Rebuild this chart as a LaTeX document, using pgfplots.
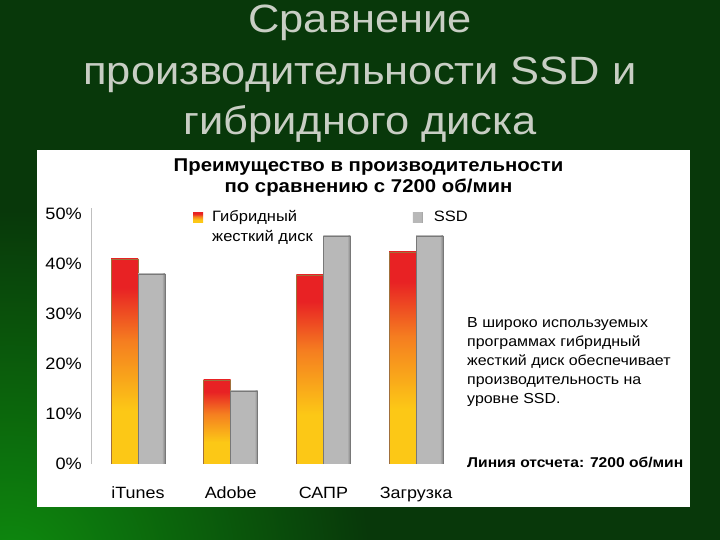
\documentclass[border=0pt]{standalone}
\usepackage{pgfplots}
\usepackage{pgfplotstable}
\pgfplotsset{compat=1.18}
\usepackage{fontspec}
\setmainfont{Liberation Sans}[FakeStretch=1.1]
\definecolor{bgdark}{RGB}{8,56,10}
\definecolor{bglight}{RGB}{14,140,14}
\definecolor{titlegray}{RGB}{200,206,196}
\definecolor{hyR}{RGB}{232,34,36}
\definecolor{hyO}{RGB}{245,126,32}
\definecolor{hyY}{RGB}{252,200,22}
\definecolor{hyE}{RGB}{160,112,60}
\definecolor{ssdA}{RGB}{184,184,184}
\definecolor{ssdD}{RGB}{140,140,140}
\definecolor{ssdE}{RGB}{120,120,120}
\pgfdeclareverticalshading{hybrid}{100bp}{color(0bp)=(hyY); color(25bp)=(hyY); color(38bp)=(hyY); color(55bp)=(hyO); color(68bp)=(hyR); color(75bp)=(hyR); color(100bp)=(hyR)}
\pgfdeclarehorizontalshading{ssd}{100bp}{color(0bp)=(ssdA); color(25bp)=(ssdA); color(69bp)=(ssdA); color(74bp)=(ssdD); color(100bp)=(ssdD)}

% 0 = iTunes, 1 = Adobe, 2 = CAD, 3 = boot
\pgfplotstableread{
x  hybrid  ssd
0  41.0    38.0
1  16.8    14.6
2  37.8    45.6
3  42.4    45.6
}\perf

\pgfplotsset{
  hybridbar/.style={ybar, bar width=27pt, bar shift=-13.5pt, shade, shading=hybrid, draw=hyE, line width=0.6pt},
  ssdbar/.style={ybar, bar width=27pt, bar shift=13.5pt, shade, shading=ssd, draw=ssdE, line width=0.6pt},
}

\begin{document}
\begin{tikzpicture}[x=1pt,y=1pt]
\path[use as bounding box] (0,0) rectangle (720,540);
\fill[bgdark] (0,0) rectangle (720,540);
\begin{scope}
  \clip (0,0) rectangle (720,540);
  \shade[inner color=bglight, outer color=bgdark] (10,-30) circle (360);
\end{scope}
\fill[white] (37,33) rectangle (690,390);

% slide title
\begin{scope}[every node/.style={text=titlegray, anchor=base, font=\fontsize{39.5}{47}\selectfont}]
  \node at (360,507) {Сравнение};
  \node at (360,455) {производительности SSD и};
  \node at (360,405) {гибридного диска};
\end{scope}

\begin{axis}[
  at={(91.7pt,76pt)}, anchor=south west,
  scale only axis, width=370.7pt, height=256pt,
  xmin=-0.5, xmax=3.5, ymin=0, ymax=51.2,
  axis x line*=bottom, axis y line*=left,
  x axis line style={draw=none},
  y axis line style={draw=black!25, line width=0.8pt, -},
  tick style={draw=none}, major tick length=0pt,
  xtick={0,1,2,3}, xticklabels={iTunes,Adobe,САПР,Загрузка},
  ytick={0,10,20,30,40,50},
  yticklabels={0\%,10\%,20\%,30\%,40\%,50\%},
  xticklabel style={anchor=base, inner sep=0pt, yshift=-35pt, font=\fontsize{16.3}{19}\selectfont},
  yticklabel style={anchor=east, inner sep=0pt, xshift=-9.7pt, font=\fontsize{16.5}{19}\selectfont},
  legend columns=2,
  legend cell align=left,
  legend style={at={(0.2733,0.995)}, anchor=north west, draw=none, fill=none, inner sep=0pt,
    font=\fontsize{15}{20}\selectfont,
    cells={anchor=west, inner sep=0pt},
    /tikz/column 1/.style={column sep=7pt},
    /tikz/column 2/.style={column sep=98pt},
    /tikz/column 3/.style={column sep=9pt}},
  legend image code/.code={\path[#1,draw=none] (0pt,-5pt) rectangle (10pt,5pt);},
]
\addlegendimage{hybridbar}
\addlegendentry{\vphantom{Г}\smash{\begin{tabular}[t]{@{}l@{}}Гибридный\\жесткий диск\end{tabular}}}
\addlegendimage{ssdbar}
\addlegendentry{\vphantom{Г}SSD}
% one path per bar, so that every bar gets its own gradient
\pgfplotsinvokeforeach{0,1,2,3}{
  \addplot[hybridbar, forget plot, restrict x to domain=#1:#1] table[x=x, y=hybrid] {\perf};
  \addplot[ssdbar, forget plot, restrict x to domain=#1:#1] table[x=x, y=ssd] {\perf};
}
\end{axis}

% chart title
\begin{scope}[every node/.style={anchor=base, font=\bfseries\fontsize{18.5}{21}\selectfont}]
  \node at (368.5,368) {Преимущество в производительности};
  \node at (368.5,347) {по сравнению с 7200 об/мин};
\end{scope}

% note
\begin{scope}[every node/.style={anchor=base west, inner sep=0pt, font=\fontsize{14.5}{19}\selectfont}]
  \node at (467,212) {В широко используемых};
  \node at (467,193) {программах гибридный};
  \node at (467,174) {жесткий диск обеспечивает};
  \node at (467,155) {производительность на};
  \node at (467,136) {уровне SSD.};
  \node[font=\bfseries\fontsize{14.2}{17}\selectfont] at (467,72) {Линия отсчета: 7200 об/мин};
\end{scope}
\end{tikzpicture}
\end{document}
